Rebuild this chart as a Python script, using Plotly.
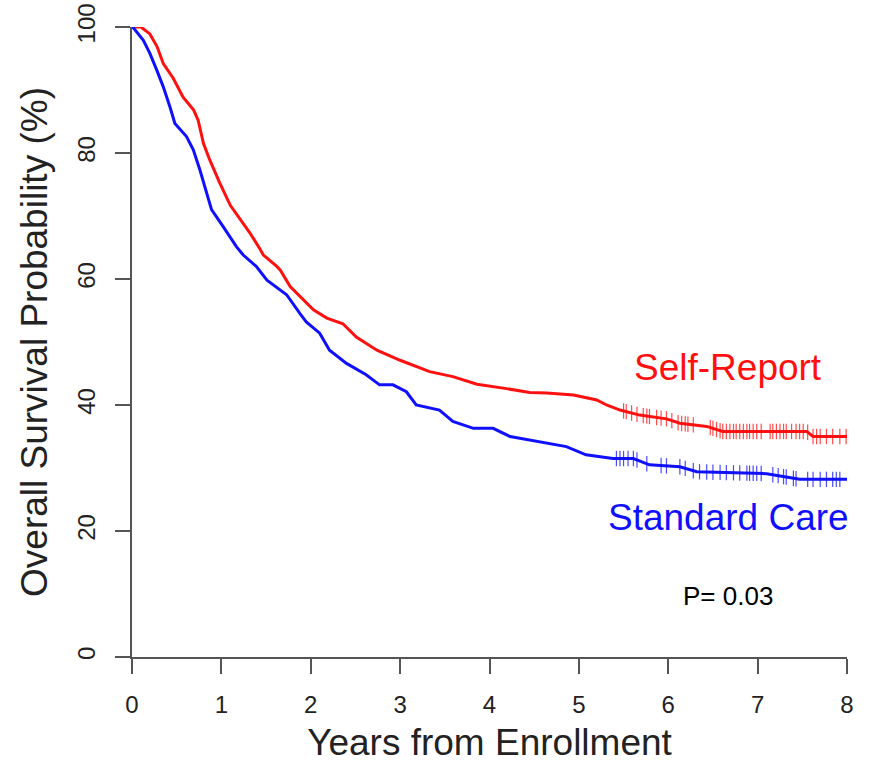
import numpy as np
import plotly.graph_objects as go

# ---- Data (years, survival %) ----
self_t = [0.0, 0.10, 0.20, 0.28, 0.35, 0.46, 0.57, 0.69, 0.74, 0.80, 0.87, 0.98, 1.10, 1.245, 1.32,
          1.43, 1.47, 1.62, 1.66, 1.77, 2.03, 2.18, 2.36, 2.51, 2.74, 3.00, 3.18, 3.33, 3.59, 3.86,
          4.19, 4.45, 4.64, 4.94, 5.20, 5.31, 5.46, 5.68, 5.98, 6.13, 6.43, 6.61, 7.55, 7.62, 8.0]
self_s = [100, 100, 98.9, 96.9, 94.2, 91.9, 88.9, 86.8, 85.2, 81.5, 78.9, 75.3, 71.7, 68.8, 67.3,
          64.8, 63.8, 62.0, 61.4, 58.8, 55.1, 53.8, 52.9, 50.8, 48.7, 47.1, 46.1, 45.3, 44.5, 43.3,
          42.6, 42.0, 41.9, 41.6, 40.8, 40.0, 39.2, 38.4, 37.8, 37.1, 36.6, 35.8, 35.8, 35.0, 35.0]

std_t = [0.0, 0.02, 0.127, 0.20, 0.276, 0.35, 0.425, 0.48, 0.61, 0.686, 0.76, 0.835, 0.89, 1.02,
         1.17, 1.245, 1.39, 1.51, 1.73, 1.88, 1.95, 2.10, 2.21, 2.40, 2.62, 2.77, 2.92, 3.07, 3.18,
         3.44, 3.59, 3.82, 4.04, 4.23, 4.53, 4.86, 5.08, 5.38, 5.61, 5.79, 6.13, 6.32, 7.10, 7.47, 8.0]
std_s = [100, 99.8, 97.9, 95.8, 93.2, 90.5, 87.3, 84.7, 82.6, 80.5, 77.3, 73.6, 71.0, 68.3,
         65.1, 63.8, 62.0, 59.8, 57.5, 54.5, 53.2, 51.4, 48.7, 46.6, 44.8, 43.2, 43.2, 42.1, 40.0,
         39.2, 37.4, 36.3, 36.3, 35.0, 34.2, 33.4, 32.1, 31.5, 31.5, 30.5, 30.2, 29.4, 29.1, 28.2, 28.2]

# censoring marks (years)
self_cens = [5.50, 5.53, 5.59, 5.65, 5.72, 5.76, 5.79, 5.87, 5.92, 5.98, 6.04, 6.11, 6.15, 6.19, 6.22,
             6.28, 6.47, 6.50, 6.54, 6.58, 6.61, 6.65, 6.69, 6.73, 6.76, 6.80, 6.84, 6.88, 6.91, 6.95,
             6.99, 7.04, 7.14, 7.17, 7.21, 7.25, 7.29, 7.32, 7.38, 7.43, 7.47, 7.51, 7.56, 7.62, 7.66,
             7.70, 7.77, 7.84, 7.92, 7.99]
std_cens = [5.42, 5.46, 5.50, 5.55, 5.61, 5.65, 5.76, 5.92, 5.98, 6.13, 6.19, 6.28, 6.35, 6.43, 6.50,
            6.58, 6.65, 6.73, 6.80, 6.88, 6.91, 6.95, 6.99, 7.04, 7.17, 7.23, 7.29, 7.32, 7.40, 7.43,
            7.56, 7.62, 7.70, 7.77, 7.84, 7.88, 7.92]

x_ticks = [0, 1, 2, 3, 4, 5, 6, 7, 8]
y_ticks = [0, 20, 40, 60, 80, 100]

RED = "#ff1010"
BLUE = "#1010ff"
FONT = "Liberation Sans, Arial, sans-serif"

fig = go.Figure()
for t, s, cens, col in [(self_t, self_s, self_cens, RED), (std_t, std_s, std_cens, BLUE)]:
    fig.add_trace(go.Scatter(x=t, y=s, mode="lines", line=dict(color=col, width=3),
                             cliponaxis=False, showlegend=False, hoverinfo="skip"))
    cy = np.interp(cens, t, s)
    fig.add_trace(go.Scatter(x=cens, y=cy, mode="markers",
                             marker=dict(symbol="line-ns", size=11, color=col,
                                         line=dict(color=col, width=1.2)),
                             opacity=0.75, cliponaxis=False, showlegend=False, hoverinfo="skip"))

fig.add_annotation(x=6.67, y=46.0, text="Self-Report", showarrow=False,
                   font=dict(family=FONT, size=37, color=RED))
fig.add_annotation(x=6.67, y=22.1, text="Standard Care", showarrow=False,
                   font=dict(family=FONT, size=37, color=BLUE))
fig.add_annotation(x=6.67, y=9.7, text="P= 0.03", showarrow=False,
                   font=dict(family=FONT, size=26, color="black"))

axis_common = dict(showgrid=False, zeroline=False, showline=True, linecolor="#555555",
                   linewidth=2, ticks="outside", ticklen=15, tickwidth=2, tickcolor="#555555",
                   ticklabelstandoff=10, automargin=False,
                   tickfont=dict(family=FONT, size=24, color="#222222"))

fig.update_xaxes(range=[0, 8], tickvals=x_ticks, ticktext=[str(v) for v in x_ticks],
                 title=dict(text="Years from Enrollment", font=dict(family=FONT, size=37, color="#222222"),
                            standoff=12),
                 **axis_common)
fig.update_yaxes(range=[0, 100], tickvals=y_ticks, ticktext=[str(v) for v in y_ticks],
                 tickangle=-90,
                 title=dict(text="Overall Survival Probability (%)",
                            font=dict(family=FONT, size=37, color="#222222"), standoff=14),
                 **axis_common)

fig.update_layout(width=870, height=763, margin=dict(l=132, r=23, t=27, b=106),
                  plot_bgcolor="white", paper_bgcolor="white", showlegend=False)

fig.write_html("out.html")
